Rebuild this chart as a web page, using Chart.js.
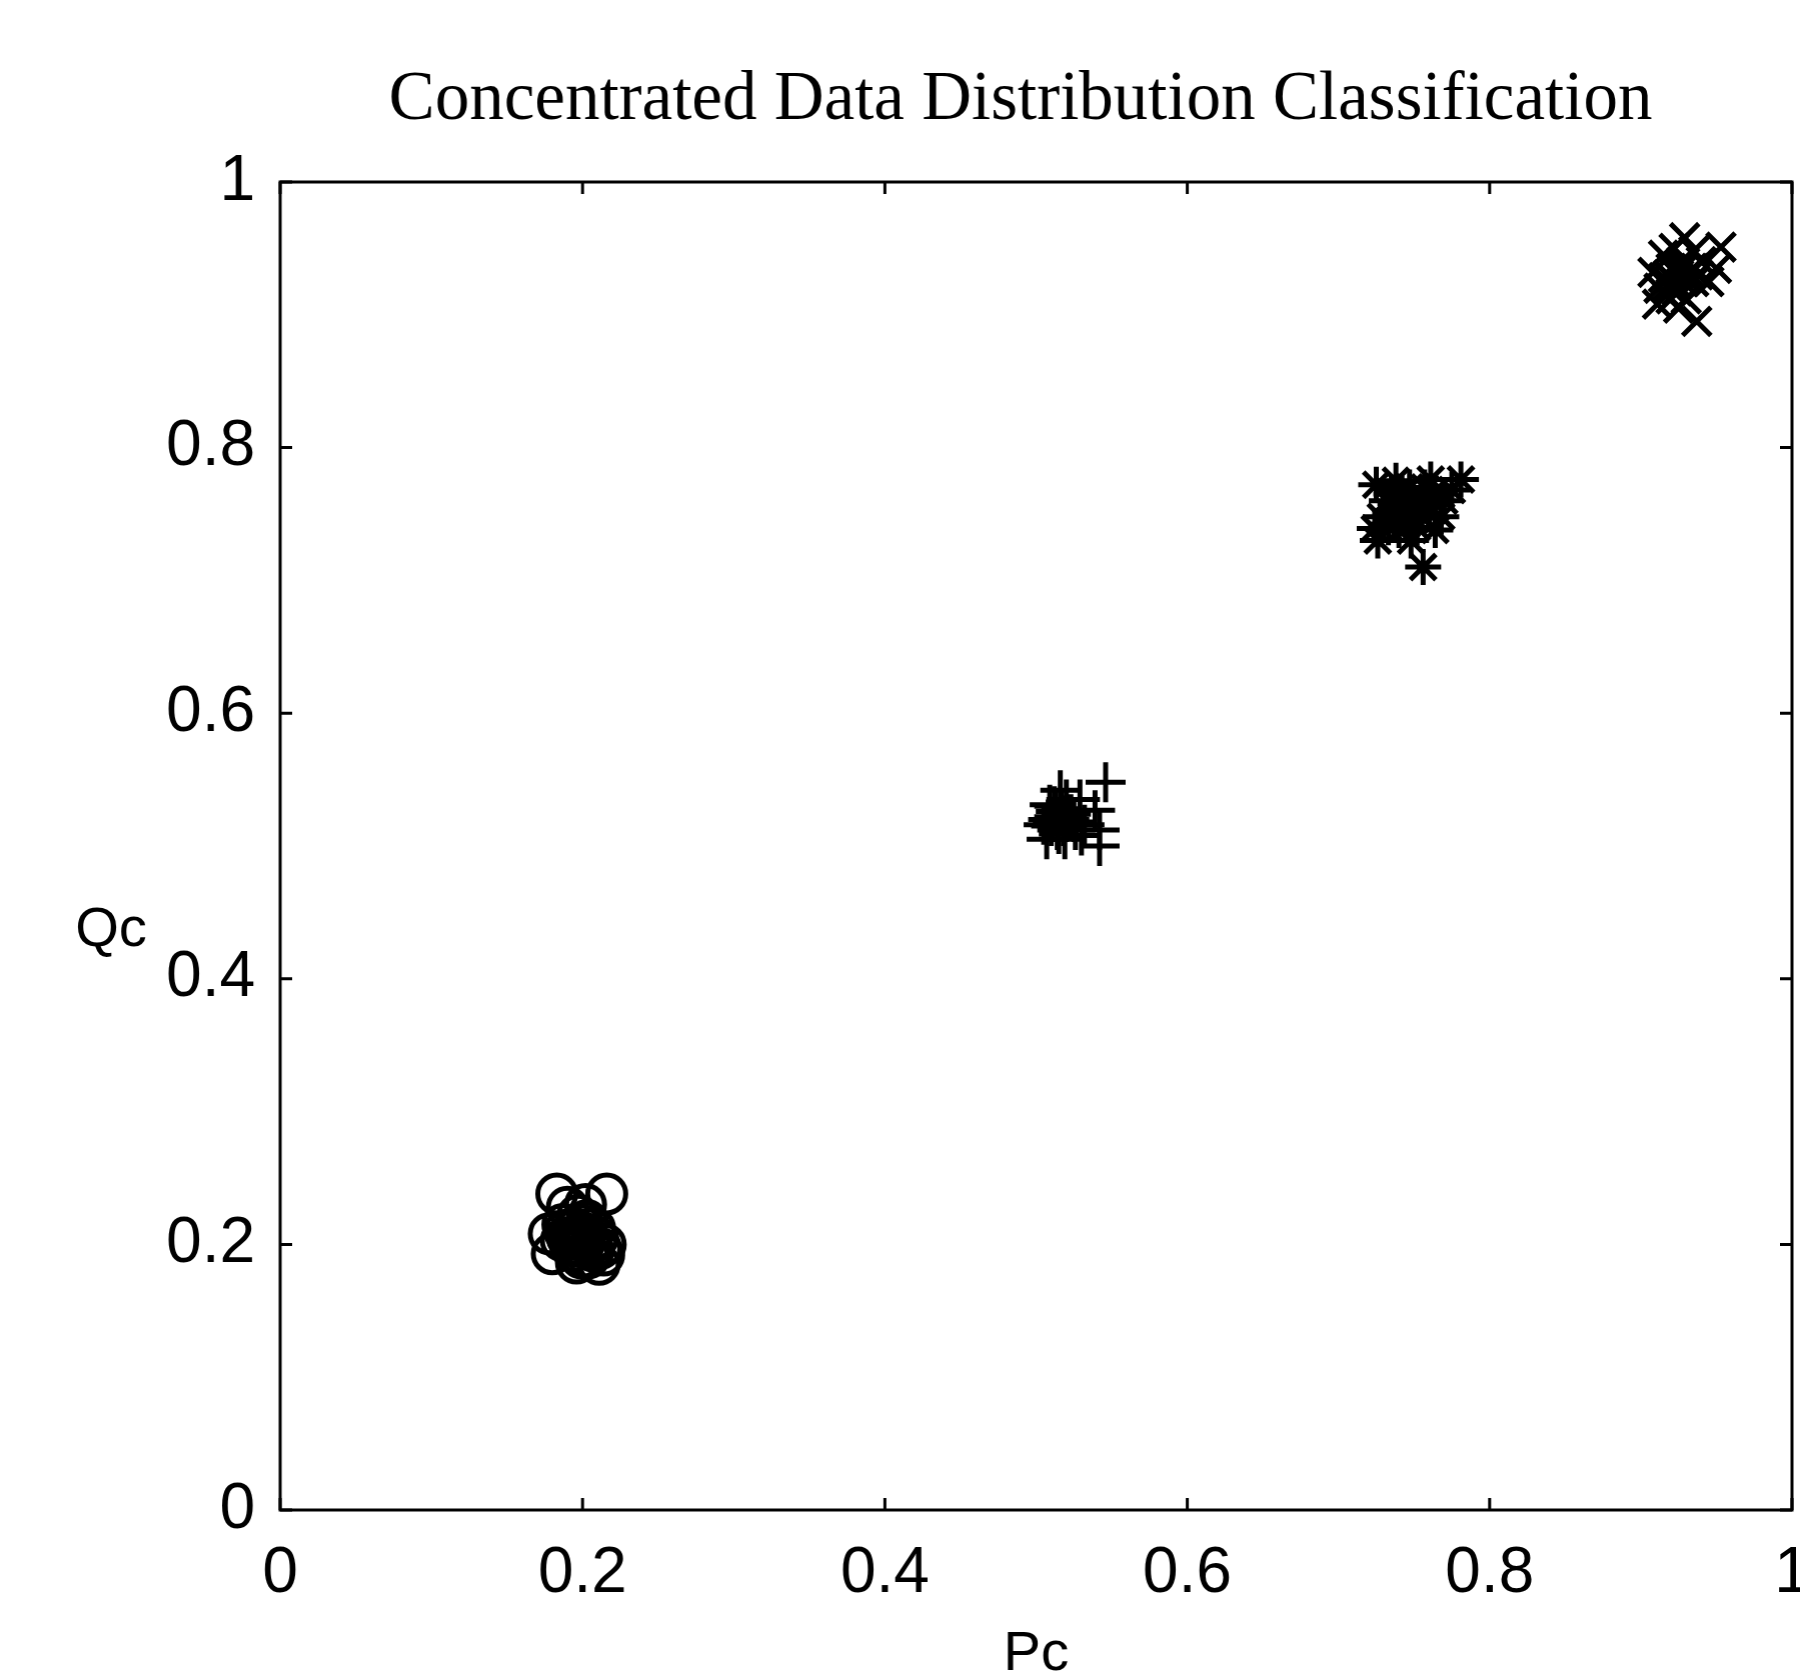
<!DOCTYPE html>
<html>
<head>
<meta charset="utf-8">
<script src="https://cdn.jsdelivr.net/npm/chart.js@4.4.1/dist/chart.umd.min.js"></script>
<style>
    html, body { margin: 0; padding: 0; background: #ffffff; overflow: hidden; }
    #wrap { width: 1800px; height: 1675px; }
</style>
</head>
<body>
<div id="wrap"><canvas id="concentrated"></canvas></div>
<script>

    const chartTitle = "Concentrated Data Distribution Classification";
    const xName = "Pc";
    const yName = "Qc";

    // axis ticks (same on both axes)
    const tickValues = [0, 0.2, 0.4, 0.6, 0.8, 1];
    const tickLabels = ["0", "0.2", "0.4", "0.6", "0.8", "1"];

    // class 1: circles around (0.2, 0.2)
    const circleX = [0.183, 0.216, 0.178, 0.180, 0.187, 0.192, 0.197, 0.200, 0.204, 0.196, 0.208, 0.212, 0.211, 0.215, 0.214, 0.190, 0.202, 0.186, 0.206, 0.195,
                     0.195, 0.200, 0.193, 0.205, 0.198, 0.190, 0.202, 0.207, 0.194, 0.199, 0.188, 0.203, 0.210, 0.196, 0.201];
    const circleY = [0.238, 0.238, 0.208, 0.193, 0.215, 0.200, 0.222, 0.205, 0.190, 0.186, 0.212, 0.197, 0.185, 0.200, 0.192, 0.228, 0.230, 0.203, 0.200, 0.212,
                     0.205, 0.198, 0.210, 0.200, 0.215, 0.205, 0.208, 0.195, 0.195, 0.190, 0.210, 0.218, 0.205, 0.200, 0.202];

    // class 2: plus signs around (0.52, 0.52)
    const plusX = [0.546, 0.542, 0.516, 0.505, 0.515, 0.523, 0.529, 0.509, 0.519, 0.532, 0.539, 0.542, 0.513, 0.526, 0.507, 0.520, 0.511, 0.530,
                   0.515, 0.518, 0.512, 0.520, 0.510, 0.517, 0.522, 0.508, 0.514, 0.525, 0.512, 0.519];
    const plusY = [0.548, 0.500, 0.542, 0.516, 0.509, 0.524, 0.535, 0.531, 0.505, 0.516, 0.527, 0.512, 0.526, 0.512, 0.505, 0.535, 0.518, 0.508,
                   0.520, 0.515, 0.522, 0.518, 0.515, 0.528, 0.520, 0.520, 0.512, 0.518, 0.530, 0.523];

    // class 3: asterisks around (0.75, 0.75)
    const starX = [0.725, 0.738, 0.761, 0.781, 0.724, 0.726, 0.764, 0.756, 0.745, 0.735, 0.750, 0.770, 0.755, 0.740, 0.732, 0.760, 0.775, 0.748, 0.742, 0.753, 0.728, 0.768,
                   0.745, 0.750, 0.740, 0.755, 0.748, 0.738, 0.752, 0.745, 0.758, 0.742, 0.735, 0.762, 0.757, 0.733, 0.747];
    const starY = [0.772, 0.775, 0.776, 0.776, 0.739, 0.730, 0.738, 0.710, 0.760, 0.750, 0.745, 0.760, 0.765, 0.738, 0.760, 0.750, 0.768, 0.730, 0.748, 0.755, 0.748, 0.748,
                   0.752, 0.758, 0.755, 0.748, 0.762, 0.745, 0.740, 0.742, 0.758, 0.765, 0.765, 0.765, 0.770, 0.740, 0.770];

    // class 4: crosses around (0.93, 0.93)
    const crossX = [0.937, 0.908, 0.911, 0.950, 0.929, 0.953, 0.915, 0.925, 0.935, 0.920, 0.930, 0.940, 0.918, 0.928, 0.945, 0.922, 0.912, 0.935, 0.925,
                    0.925, 0.920, 0.930, 0.922, 0.928, 0.918, 0.932, 0.924, 0.915, 0.935, 0.927, 0.920, 0.938];
    const crossY = [0.895, 0.932, 0.908, 0.935, 0.958, 0.951, 0.945, 0.935, 0.925, 0.920, 0.912, 0.940, 0.930, 0.925, 0.925, 0.950, 0.920, 0.948, 0.905,
                    0.930, 0.935, 0.928, 0.925, 0.935, 0.922, 0.932, 0.918, 0.928, 0.935, 0.940, 0.912, 0.930];

    // turn two arrays into {x, y} points
    function toPoints(xs, ys) {
        return xs.map(function (x, i) {
            return { x: x, y: ys[i] };
        });
    }

    function markerSet(xs, ys, style, radius) {
        return {
            data: toPoints(xs, ys),
            pointStyle: style,
            pointRadius: radius,
            pointHoverRadius: radius,
            pointBorderWidth: 5,
            borderColor: "#000",
            backgroundColor: "rgba(0,0,0,0)",
            showLine: false
        };
    }

    // title, box round the plot, inward ticks and the two axis names
    const framePlugin = {
        id: "frame",
        afterDatasetsDraw: function (chart) {
            const ctx = chart.ctx;
            const a = chart.chartArea;
            const sx = chart.scales.x;
            const sy = chart.scales.y;
            ctx.save();
            ctx.strokeStyle = "#000";
            ctx.lineWidth = 3;
            ctx.strokeRect(a.left, a.top, a.right - a.left, a.bottom - a.top);

            ctx.beginPath();
            tickValues.forEach(function (v) {
                const px = sx.getPixelForValue(v);
                ctx.moveTo(px, a.bottom); ctx.lineTo(px, a.bottom - 12);
                ctx.moveTo(px, a.top); ctx.lineTo(px, a.top + 12);
                const py = sy.getPixelForValue(v);
                ctx.moveTo(a.left, py); ctx.lineTo(a.left + 12, py);
                ctx.moveTo(a.right, py); ctx.lineTo(a.right - 12, py);
            });
            ctx.stroke();

            ctx.fillStyle = "#000";
            ctx.textAlign = "center";
            ctx.textBaseline = "alphabetic";
            ctx.font = '69px "Liberation Serif", "Times New Roman", serif';
            ctx.fillText(chartTitle, 1020, 119);

            ctx.font = '56px "Liberation Sans", Arial, sans-serif';
            ctx.fillText(yName, 111, 946);
            ctx.fillText(xName, sx.getPixelForValue(0.5), 1670);
            ctx.restore();
        }
    };

    const chart = new Chart("concentrated", {
        type: "scatter",
        data: {
            datasets: [
                markerSet(circleX, circleY, "circle", 19),
                markerSet(plusX, plusY, "cross", 20),
                markerSet(starX, starY, "star", 18),
                markerSet(crossX, crossY, "crossRot", 20)
            ]
        },
        options: {
            responsive: true,
            maintainAspectRatio: false,
            animation: false,
            events: [],
            layout: {
                padding: { left: 0, right: 0, top: 182, bottom: 0 }
            },
            plugins: {
                legend: { display: false },
                tooltip: { enabled: false },
                title: { display: false }
            },
            scales: {
                x: {
                    type: "linear",
                    min: 0,
                    max: 1,
                    afterBuildTicks: function (scale) {
                        scale.ticks = tickValues.map(function (v) { return { value: v }; });
                    },
                    afterFit: function (scale) {
                        scale.height = 165;
                    },
                    grid: { display: false, drawTicks: false },
                    border: { display: false },
                    ticks: {
                        color: "#000",
                        padding: 26,
                        maxRotation: 0,
                        autoSkip: false,
                        font: { family: '"Liberation Sans", Arial, sans-serif', size: 64 },
                        callback: function (value) {
                            const i = tickValues.indexOf(value);
                            return i >= 0 ? tickLabels[i] : "";
                        }
                    }
                },
                y: {
                    type: "linear",
                    min: 0,
                    max: 1,
                    afterBuildTicks: function (scale) {
                        scale.ticks = tickValues.map(function (v) { return { value: v }; });
                    },
                    afterFit: function (scale) {
                        scale.width = 280;
                    },
                    grid: { display: false, drawTicks: false },
                    border: { display: false },
                    ticks: {
                        color: "#000",
                        padding: 25,
                        autoSkip: false,
                        font: { family: '"Liberation Sans", Arial, sans-serif', size: 64 },
                        callback: function (value) {
                            const i = tickValues.indexOf(value);
                            return i >= 0 ? tickLabels[i] : "";
                        }
                    }
                }
            }
        },
        plugins: [framePlugin]
    });

    // the last x label ("1") pushes the plot in; widen the canvas past the
    // window so the right edge of the box lands at 1791 like the original
    const extra = 1791 - chart.chartArea.right;
    if (extra > 0) {
        document.getElementById("wrap").style.width = (1800 + extra) + "px";
        chart.resize();
    }
</script>
</body>
</html>
